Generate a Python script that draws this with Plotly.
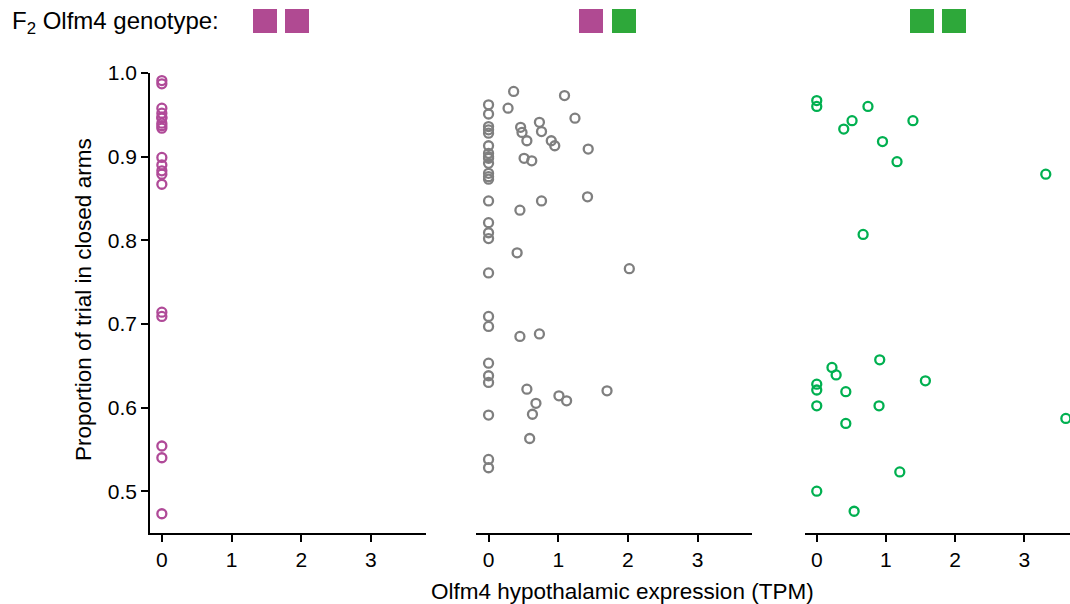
import plotly.graph_objects as go

# ---- data ----
hom_a_x = [0]*19
hom_a_y = [0.991, 0.987, 0.958, 0.952, 0.946, 0.940, 0.934, 0.899, 0.890, 0.883, 0.879,
           0.867, 0.714, 0.709, 0.554, 0.540, 0.473, 0.947, 0.937]

het_x = [0, 0, 0, 0, 0, 0, 0, 0, 0, 0, 0, 0, 0, 0, 0, 0, 0, 0, 0, 0, 0, 0, 0, 0, 0, 0,
         0.36, 1.09, 0.28, 1.24, 0.46, 0.73, 0.48, 0.76, 0.55, 0.90, 0.95, 1.43, 0.51, 0.62,
         0.45, 0.76, 1.42, 0.41, 2.02, 0.45, 0.73, 0.55, 0.68, 1.01, 1.12, 1.70, 0.63, 0.59]
het_y = [0.962, 0.951, 0.936, 0.932, 0.928, 0.913, 0.904, 0.898, 0.892, 0.880, 0.876, 0.873,
         0.847, 0.821, 0.809, 0.802, 0.761, 0.709, 0.697, 0.653, 0.638, 0.630, 0.591, 0.538,
         0.528, 0.900,
         0.978, 0.973, 0.958, 0.946, 0.935, 0.941, 0.929, 0.930, 0.919, 0.919, 0.913, 0.909,
         0.898, 0.895, 0.836, 0.847, 0.852, 0.785, 0.766, 0.685, 0.688, 0.622, 0.605, 0.614,
         0.608, 0.620, 0.592, 0.563]

hom_b_x = [0, 0, 0.74, 0.51, 0.39, 1.39, 0.95, 1.16, 3.31, 0.67, 0.91, 0.22, 0.28, 0, 0,
           0.42, 1.57, 0, 0.90, 0.42, 3.60, 1.20, 0, 0.54]
hom_b_y = [0.967, 0.960, 0.960, 0.943, 0.933, 0.943, 0.918, 0.894, 0.879, 0.807, 0.657,
           0.648, 0.639, 0.628, 0.621, 0.619, 0.632, 0.602, 0.602, 0.581, 0.587, 0.523,
           0.500, 0.476]

x_ticks = [0, 1, 2, 3]
y_ticks = [0.5, 0.6, 0.7, 0.8, 0.9, 1.0]
y_tick_text = ["0.5", "0.6", "0.7", "0.8", "0.9", "1.0"]

MAG = "#b04a98"
GRY = "#7f7f7f"
GRN = "#00b050"
SQ_MAG = "#b04a92"
SQ_GRN = "#2ea83a"

W, H = 1070, 604
FONT = "Liberation Sans, Arial, Helvetica, sans-serif"

fig = go.Figure()
for x, y, c, ax in [(hom_a_x, hom_a_y, MAG, ""), (het_x, het_y, GRY, "2"), (hom_b_x, hom_b_y, GRN, "3")]:
    fig.add_trace(go.Scatter(
        x=x, y=y, mode="markers", xaxis="x" + ax, yaxis="y" + ax,
        marker=dict(symbol="circle-open", size=9, color=c, line=dict(width=2.3, color=c)),
        showlegend=False, hoverinfo="skip"))

def px(v):
    return v / W

def py(v):
    return (533 - v) / 460

xa = dict(range=[-0.17, 3.79], tickvals=x_ticks, ticks="outside", ticklen=7, tickwidth=1.5,
          tickcolor="black", showline=True, linecolor="black", linewidth=1.5, showgrid=False,
          zeroline=False, tickfont=dict(size=21, color="black", family=FONT))
ya_main = dict(range=[0.45, 1.0], tickvals=y_ticks, ticktext=y_tick_text, ticks="outside",
               ticklen=7, tickwidth=1.5, tickcolor="black", showline=True, linecolor="black",
               linewidth=1.5, showgrid=False, zeroline=False,
               tickfont=dict(size=21, color="black", family=FONT))
ya_hidden = dict(range=[0.45, 1.0], showline=False, showticklabels=False, ticks="",
                 showgrid=False, zeroline=False)

fig.update_layout(
    width=W, height=H, margin=dict(l=0, r=0, t=73, b=71),
    plot_bgcolor="white", paper_bgcolor="white",
    font=dict(family=FONT, color="black"),
    xaxis=dict(xa, domain=[px(150), px(426)]),
    xaxis2=dict(xa, domain=[px(476), px(752)], range=[-0.18, 3.78]),
    xaxis3=dict(xa, domain=[px(805), 1.0], range=[-0.17, 3.66]),
    yaxis=dict(ya_main, anchor="x"),
    yaxis2=dict(ya_hidden, anchor="x2"),
    yaxis3=dict(ya_hidden, anchor="x3"),
)

shapes = []
for x0, col in [(253, SQ_MAG), (285, SQ_MAG), (579, SQ_MAG), (612, SQ_GRN), (910, SQ_GRN), (942, SQ_GRN)]:
    shapes.append(dict(type="rect", xref="paper", yref="paper", x0=px(x0), x1=px(x0 + 24),
                       y0=py(33), y1=py(9), fillcolor=col, line=dict(width=0)))
fig.update_layout(shapes=shapes)

fig.add_annotation(text="F<sub>2</sub> Olfm4 genotype:", xref="paper", yref="paper",
                   x=px(10), y=py(22), xanchor="left", yanchor="middle", showarrow=False,
                   font=dict(size=24, color="black", family=FONT))
fig.add_annotation(text="Olfm4 hypothalamic expression (TPM)", xref="paper", yref="paper",
                   x=px(622), y=py(591), xanchor="center", yanchor="middle", showarrow=False,
                   font=dict(size=22.5, color="black", family=FONT))
fig.add_annotation(text="Proportion of trial in closed arms", xref="paper", yref="paper",
                   x=px(83), y=py(300), xanchor="center", yanchor="middle", showarrow=False,
                   textangle=-90, font=dict(size=22.5, color="black", family=FONT))

fig.write_html("out.html")
